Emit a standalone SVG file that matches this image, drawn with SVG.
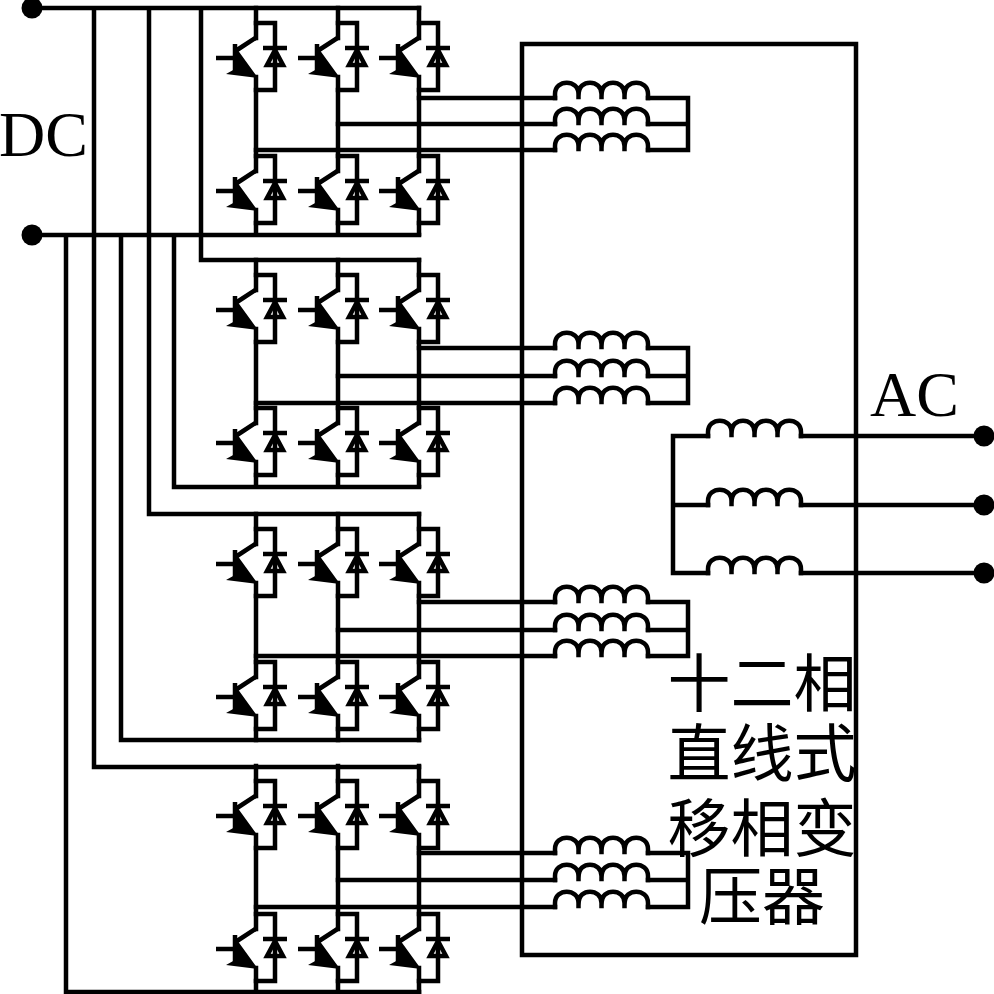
<svg xmlns="http://www.w3.org/2000/svg" width="994" height="994" viewBox="0 0 994 994">
<style>
.l{fill:none;stroke:#000;stroke-width:4.5;stroke-linejoin:miter;stroke-linecap:square}
.b{fill:none;stroke:#000;stroke-width:4.5;stroke-linecap:butt}
.d{fill:#000;stroke:none}
.t{font-family:"Liberation Serif",serif;font-size:64px;fill:#000}
.c{font-family:"Noto Sans CJK SC",sans-serif;font-size:63px;fill:#000;text-anchor:middle}
</style>
<defs>
<g id="sw">
<path class="l" d="M0 15V30M0 69V82M0 15H19V82H0"/>
<path class="b" d="M-40 50H-21M-21 36V65M-19 42L1 29M7 40H31"/>
<path class="l" d="M19 42L11 57H27Z"/>
<path class="b" d="M19 41V57" style="stroke-width:2.500"/>
<path class="d" d="M-19 41L2 70L-30 66L-21 61Z"/>
</g>
<g id="coil"><path class="l" d="M0 0V-4C0 -19 23.500 -19 23.500 -4V-1M23.500 -4C23.500 -19 46.500 -19 46.500 -4V-1M46.500 -4C46.500 -19 69.500 -19 69.500 -4V-1M69.500 -4C69.500 -19 93 -19 93 -4V0"/></g>
<g id="bridge">
<use href="#sw" x="256" y="8"/><use href="#sw" x="338" y="8"/><use href="#sw" x="419" y="8"/>
<use href="#sw" x="256" y="141"/><use href="#sw" x="338" y="141"/><use href="#sw" x="419" y="141"/>
<path class="l" d="M256 8V23M338 8V23M419 8V23M256 90V156M338 90V156M419 90V156M256 223V234M338 223V234M419 223V234"/>
</g>
</defs>
<g id="transformer"><rect class="l" x="522" y="44" width="334" height="911"/></g>
<g id="bridge1"><use href="#bridge"/></g>
<g id="bridge2"><use href="#bridge" y="252"/></g>
<g id="bridge3"><use href="#bridge" y="506"/></g>
<g id="bridge4"><use href="#bridge" y="758"/></g>
<g id="primary1"><use href="#coil" x="555" y="98"/><use href="#coil" x="555" y="124"/><use href="#coil" x="555" y="150"/></g>
<g id="primary2"><use href="#coil" x="555" y="348"/><use href="#coil" x="555" y="376"/><use href="#coil" x="555" y="403"/></g>
<g id="primary3"><use href="#coil" x="555" y="602"/><use href="#coil" x="555" y="630"/><use href="#coil" x="555" y="656"/></g>
<g id="primary4"><use href="#coil" x="555" y="853"/><use href="#coil" x="555" y="880"/><use href="#coil" x="555" y="907"/></g>
<g id="secondary"><use href="#coil" x="708" y="436"/><use href="#coil" x="708" y="505"/><use href="#coil" x="708" y="573"/></g>
<g id="connectors">
<path class="l" d="M32 8H419M32 235H419M94 8V767H419M149 8V514H419M201 8V260H419M66 235V992H419M121 235V740H419M174 235V487H419"/>
<path class="l" d="M419 98H555M338 124H555M256 150H555M648 98H688V150H648M648 124H688"/>
<path class="l" d="M419 348H555M338 376H555M256 403H555M648 348H688V403H648M648 376H688"/>
<path class="l" d="M419 602H555M338 630H555M256 656H555M648 602H688V656H648M648 630H688"/>
<path class="l" d="M419 853H555M338 880H555M256 907H555M648 853H688V907H648M648 880H688"/>
<path class="l" d="M708 436H673V573H708M673 505H708M801 436H984M801 505H984M801 573H984"/>
</g>
<g id="terminals">
<circle class="d" cx="32" cy="8" r="10.500"/><circle class="d" cx="32" cy="235" r="10.500"/>
<circle class="d" cx="984" cy="436" r="10.500"/><circle class="d" cx="984" cy="505" r="10.500"/><circle class="d" cx="984" cy="573" r="10.500"/>
</g>
<g id="labels">
<text class="t" x="-1" y="156">DC</text>
<text class="t" x="870" y="416">AC</text>
<text class="c" x="762" y="706">十二相</text>
<text class="c" x="762" y="776">直线式</text>
<text class="c" x="762" y="851">移相变</text>
<text class="c" x="762" y="919">压器</text>
</g>
</svg>
